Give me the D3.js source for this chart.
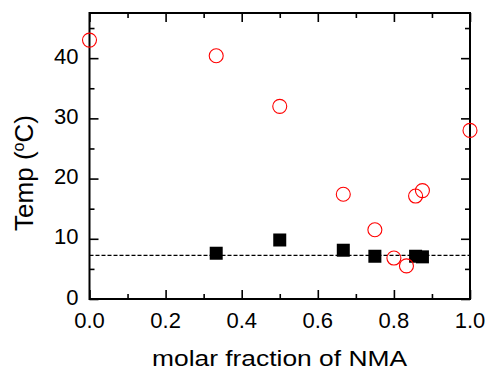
<!DOCTYPE html>
<html><head><meta charset="utf-8">
<script src="https://cdn.jsdelivr.net/npm/d3@7"></script>
<style>body{margin:0;background:#fff}svg{display:block}text{font-family:"Liberation Sans",Arial,sans-serif;fill:#000}</style>
</head><body>
<svg id="c" width="488" height="371"></svg>
<script>
const circX = [0.0, 0.333, 0.5, 0.667, 0.75, 0.8, 0.833, 0.857, 0.875, 1.0];
const circY = [43.0, 40.4, 32.0, 17.4, 11.5, 6.8, 5.5, 17.1, 18.0, 28.0];
const sqX = [0.333, 0.5, 0.667, 0.75, 0.857, 0.875];
const sqY = [7.6, 9.8, 8.1, 7.1, 7.1, 7.0];
const refLine = 7.25;
const xTicks = [0.0, 0.2, 0.4, 0.6, 0.8, 1.0];
const xMinor = [0.1, 0.3, 0.5, 0.7, 0.9];
const yTicks = [0, 10, 20, 30, 40];
const yMinor = [5, 15, 25, 35, 45];

const L = 89.5, R = 470, T = 13, B = 299;
const svg = d3.select("#c");
const x = d3.scaleLinear().domain([0, 1]).range([L, R]);
const y = d3.scaleLinear().domain([0, 47.5]).range([B, T]);

function ax(gen, tx, ty, vals, len) {
  const g = svg.append("g").attr("transform", `translate(${tx},${ty})`)
    .call(gen.tickValues(vals).tickSize(len).tickSizeOuter(0).tickFormat(""));
  g.select(".domain").remove();
  g.selectAll("text").remove();
  g.selectAll("line").attr("stroke", "#000").attr("stroke-width", 1.6);
  return g;
}
ax(d3.axisBottom(x), 0, B, xTicks, -9);
ax(d3.axisBottom(x), 0, B, xMinor, -5);
ax(d3.axisTop(x), 0, T, xTicks, -9);
ax(d3.axisTop(x), 0, T, xMinor, -5);
ax(d3.axisLeft(y), L, 0, yTicks, -9);
ax(d3.axisLeft(y), L, 0, yMinor, -5);
ax(d3.axisRight(y), R, 0, yTicks, -9);
ax(d3.axisRight(y), R, 0, yMinor, -5);

svg.append("g").selectAll("text").data(xTicks).join("text")
  .attr("x", d => x(d)).attr("y", 328.3).attr("text-anchor", "middle")
  .attr("font-size", 22).text(d => d3.format(".1f")(d));
svg.append("g").selectAll("text").data(yTicks).join("text")
  .attr("x", 78.5).attr("y", d => y(d) + 5.7).attr("text-anchor", "end")
  .attr("font-size", 22).text(d => d);

// frame
svg.append("rect").attr("x", L).attr("y", T).attr("width", R - L).attr("height", B - T)
  .attr("fill", "none").attr("stroke", "#000").attr("stroke-width", 2);

// dashed line
svg.append("line").attr("x1", x(0)).attr("x2", x(1)).attr("y1", y(refLine)).attr("y2", y(refLine))
  .attr("stroke", "#000").attr("stroke-width", 1.2).attr("stroke-dasharray", "4,2");

// squares
const sq = 13;
svg.append("g").selectAll("rect").data(sqX.map((d, i) => [d, sqY[i]])).join("rect")
  .attr("x", d => x(d[0]) - sq / 2).attr("y", d => y(d[1]) - sq / 2)
  .attr("width", sq).attr("height", sq).attr("fill", "#000");

// circles
svg.append("g").selectAll("circle").data(circX.map((d, i) => [d, circY[i]])).join("circle")
  .attr("cx", d => x(d[0])).attr("cy", d => y(d[1])).attr("r", 7)
  .attr("fill", "none").attr("stroke", "#ff0000").attr("stroke-width", 1.1);

// axis titles
svg.append("text").attr("x", 279.5).attr("y", 366).attr("text-anchor", "middle")
  .attr("font-size", 21.5).attr("textLength", 255).attr("lengthAdjust", "spacingAndGlyphs")
  .text("molar fraction of NMA");
const yt = svg.append("text").attr("transform", "translate(33,173) rotate(-90)")
  .attr("text-anchor", "middle").attr("font-size", 26);
yt.append("tspan").text("Temp (");
yt.append("tspan").attr("dy", -9).attr("font-size", 16).text("o");
yt.append("tspan").attr("dy", 9).text("C)");
</script>
</body></html>
